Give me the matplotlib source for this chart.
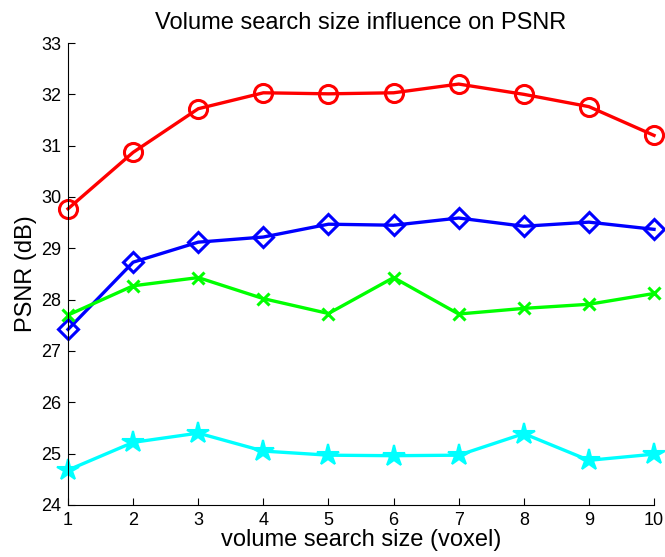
#!/usr/bin/env python3
"""Volume search size influence on PSNR (MATLAB-style line chart)."""
import matplotlib
matplotlib.use("Agg")
import matplotlib.pyplot as plt

search_size = [1, 2, 3, 4, 5, 6, 7, 8, 9, 10]
psnr_red = [29.77, 30.87, 31.72, 32.03, 32.01, 32.03, 32.20, 32.00, 31.76, 31.20]
psnr_blue = [27.42, 28.73, 29.12, 29.22, 29.47, 29.45, 29.59, 29.43, 29.51, 29.37]
psnr_green = [27.70, 28.27, 28.43, 28.02, 27.73, 28.43, 27.72, 27.83, 27.91, 28.12]
psnr_cyan = [24.68, 25.22, 25.40, 25.05, 24.97, 24.96, 24.97, 25.39, 24.87, 24.99]

plt.rcParams["font.family"] = ["Liberation Sans", "DejaVu Sans"]

fig = plt.figure(figsize=(6.65, 5.57), dpi=100)
ax = fig.add_axes([0.1023, 0.0934, 0.8812, 0.8294])

ax.plot(search_size, psnr_red, color="#ff0000", lw=2.4, marker="o", ms=13,
        mfc="none", mew=2.2, clip_on=False)
ax.plot(search_size, psnr_blue, color="#0000ff", lw=2.4, marker="D", ms=10.5,
        mfc="none", mew=2.2, clip_on=False)
ax.plot(search_size, psnr_green, color="#00ff00", lw=2.4, marker="x", ms=8,
        mew=2.2, clip_on=False)
ax.plot(search_size, psnr_cyan, color="#00ffff", lw=2.4, marker="*", ms=16,
        mew=1.5, clip_on=False)

ax.set_xlim(1, 10)
ax.set_ylim(24, 33)
ax.set_xticks(search_size)
ax.set_yticks(range(24, 34))
ax.tick_params(direction="in", length=5, width=0.8, labelsize=13, pad=5)
for s in ("top", "right"):
    ax.spines[s].set_visible(False)

ax.set_xlabel("volume search size (voxel)", fontsize=17, labelpad=0)
ax.set_ylabel("PSNR (dB)", fontsize=17, labelpad=3)
ax.set_title("Volume search size influence on PSNR", fontsize=17, pad=10)

fig.savefig("out.png", dpi=100)
